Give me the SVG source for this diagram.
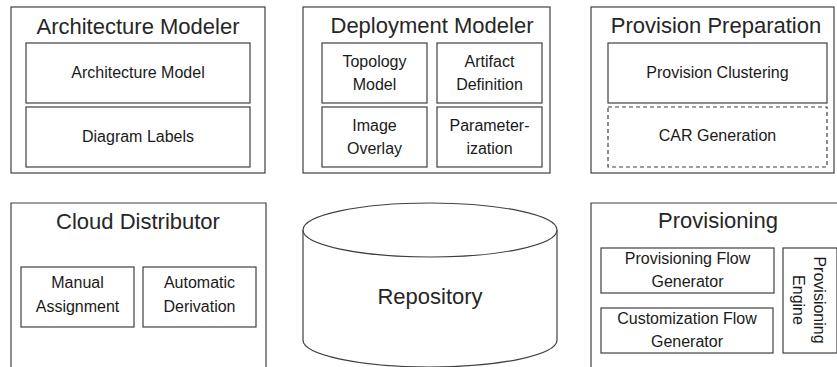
<svg xmlns="http://www.w3.org/2000/svg" width="837" height="367" viewBox="0 0 837 367">
<style>
.box{fill:#fff;stroke:#404040;stroke-width:1.2}
.dash{fill:#fff;stroke:#404040;stroke-width:1.2;stroke-dasharray:4 3}
.t{font-family:"Liberation Sans",Arial,sans-serif;font-size:22px;fill:#262626;text-anchor:middle}
.s{font-family:"Liberation Sans",Arial,sans-serif;font-size:16px;fill:#1a1a1a;text-anchor:middle}
</style>
<rect width="837" height="367" fill="#fff"/>
<g id="architecture-modeler">
<rect class="box" x="11" y="7" width="254" height="166"/>
<text class="t" x="138" y="34">Architecture Modeler</text>
<g id="architecture-model"><rect class="box" x="26" y="43" width="224" height="60"/><text class="s" x="138" y="78">Architecture Model</text></g>
<g id="diagram-labels"><rect class="box" x="26" y="107" width="224" height="60"/><text class="s" x="138" y="142">Diagram Labels</text></g>
</g>
<g id="deployment-modeler">
<rect class="box" x="303" y="7" width="247" height="166"/>
<text class="t" x="432" y="33">Deployment Modeler</text>
<g id="topology-model"><rect class="box" x="322" y="43" width="105" height="60"/><text class="s" x="374.5" y="67">Topology</text><text class="s" x="374.5" y="90">Model</text></g>
<g id="artifact-definition"><rect class="box" x="437" y="43" width="105" height="60"/><text class="s" x="489.5" y="67">Artifact</text><text class="s" x="489.5" y="90">Definition</text></g>
<g id="image-overlay"><rect class="box" x="322" y="107" width="105" height="60"/><text class="s" x="374.5" y="131">Image</text><text class="s" x="374.5" y="154">Overlay</text></g>
<g id="parameterization"><rect class="box" x="437" y="107" width="105" height="60"/><text class="s" x="489.5" y="131">Parameter-</text><text class="s" x="489.5" y="154">ization</text></g>
</g>
<g id="provision-preparation">
<rect class="box" x="591" y="7" width="243" height="166"/>
<text class="t" x="716" y="33">Provision Preparation</text>
<g id="provision-clustering"><rect class="box" x="608" y="43" width="219" height="60"/><text class="s" x="717.5" y="78">Provision Clustering</text></g>
<g id="car-generation"><rect class="dash" x="608" y="107" width="219" height="60"/><text class="s" x="717.5" y="141">CAR Generation</text></g>
</g>
<g id="cloud-distributor">
<path class="box" d="M11,370 V203 H266 V370"/>
<text class="t" x="138" y="229">Cloud Distributor</text>
<g id="manual-assignment"><rect class="box" x="21" y="267" width="113" height="60"/><text class="s" x="77.5" y="288">Manual</text><text class="s" x="77.5" y="312">Assignment</text></g>
<g id="automatic-derivation"><rect class="box" x="143" y="267" width="113" height="60"/><text class="s" x="199.5" y="288">Automatic</text><text class="s" x="199.5" y="312">Derivation</text></g>
</g>
<g id="repository">
<path class="box" d="M303,230 V340 A127,27 0 0 0 557,340 V230"/>
<ellipse class="box" cx="430" cy="230" rx="127" ry="27"/>
<text class="t" x="430" y="304">Repository</text>
</g>
<g id="provisioning">
<path class="box" d="M591,370 V203 H840"/>
<text class="t" x="718" y="228">Provisioning</text>
<g id="provisioning-flow-generator"><rect class="box" x="601" y="248" width="173" height="45"/><text class="s" x="687.5" y="264">Provisioning Flow</text><text class="s" x="687.5" y="287">Generator</text></g>
<g id="customization-flow-generator"><rect class="box" x="601" y="308" width="172" height="45"/><text class="s" x="687" y="324">Customization Flow</text><text class="s" x="687" y="347">Generator</text></g>
<g id="provisioning-engine"><rect class="box" x="783" y="248" width="54" height="105"/>
<g transform="translate(809,300) rotate(90)"><text class="s" x="0" y="-5">Provisioning</text><text class="s" x="0" y="16">Engine</text></g></g>
</g>
<g id="connectors"/>
</svg>
